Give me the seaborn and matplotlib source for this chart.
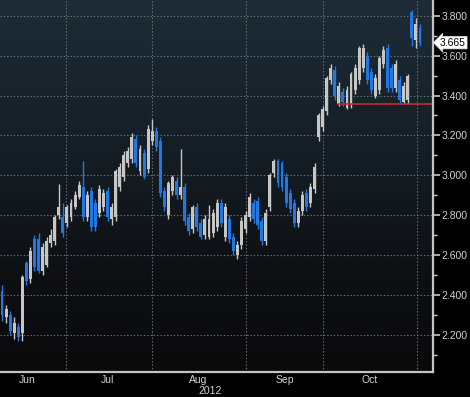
import numpy as np
import pandas as pd
import matplotlib
matplotlib.use("Agg")
import matplotlib.pyplot as plt
import matplotlib.transforms as mtransforms
from matplotlib.colors import LinearSegmentedColormap
from matplotlib.ticker import MultipleLocator
import seaborn as sns

# ---- data ----
opens = [2.42, 2.29, 2.30, 2.21, 2.24, 2.21, 2.56, 2.48, 2.68, 2.68,
         2.52, 2.55, 2.66, 2.67, 2.80, 2.79, 2.76, 2.79, 2.84, 2.89,
         2.94, 2.79, 2.92, 2.86, 2.81, 2.84, 2.92, 2.78, 2.79, 2.94,
         2.99, 3.06, 3.08, 3.18, 3.02, 3.11, 3.03, 3.17, 3.22, 3.17,
         2.92, 2.80, 2.92, 2.97, 2.90, 2.94, 2.79, 2.73, 2.84, 2.76,
         2.70, 2.69, 2.71, 2.74, 2.86, 2.69, 2.78, 2.69, 2.60, 2.65,
         2.73, 2.79, 2.86, 2.87, 2.77, 2.67, 2.84, 3.01, 3.07, 3.06,
         2.99, 2.91, 2.86, 2.76, 2.82, 2.91, 2.86, 2.93, 3.19, 3.24,
         3.32, 3.48, 3.53, 3.36, 3.42, 3.34, 3.36, 3.43, 3.48, 3.54,
         3.60, 3.52, 3.40, 3.43, 3.56, 3.64, 3.54, 3.44, 3.48, 3.37,
         3.38, 3.82, 3.68, 3.74]
closes = [2.30, 2.33, 2.22, 2.26, 2.19, 2.49, 2.47, 2.62, 2.54, 2.52,
          2.64, 2.67, 2.70, 2.79, 2.84, 2.71, 2.84, 2.86, 2.90, 2.95,
          2.79, 2.90, 2.74, 2.74, 2.93, 2.91, 2.79, 2.84, 3.02, 3.04,
          3.10, 3.12, 3.19, 3.06, 3.13, 2.99, 3.23, 3.22, 3.14, 2.91,
          2.84, 2.96, 2.99, 2.90, 2.94, 2.77, 2.72, 2.84, 2.74, 2.69,
          2.78, 2.78, 2.81, 2.86, 2.76, 2.84, 2.68, 2.62, 2.65, 2.77,
          2.80, 2.89, 2.78, 2.75, 2.67, 2.81, 3.00, 3.07, 2.96, 2.94,
          2.86, 2.83, 2.76, 2.82, 2.90, 2.84, 2.94, 3.04, 3.30, 3.33,
          3.49, 3.54, 3.40, 3.45, 3.37, 3.43, 3.51, 3.54, 3.64, 3.64,
          3.48, 3.43, 3.49, 3.59, 3.63, 3.44, 3.44, 3.56, 3.38, 3.45,
          3.50, 3.69, 3.76, 3.665]
highs = [2.45, 2.35, 2.32, 2.29, 2.26, 2.50, 2.57, 2.64, 2.70, 2.71,
         2.66, 2.69, 2.73, 2.80, 2.955, 2.86, 2.85, 2.88, 2.92, 2.97,
         3.07, 2.92, 2.94, 2.88, 2.95, 2.93, 2.94, 2.86, 3.03, 3.06,
         3.12, 3.14, 3.21, 3.20, 3.15, 3.13, 3.25, 3.28, 3.24, 3.19,
         2.94, 2.97, 3.00, 2.99, 3.13, 2.96, 2.81, 2.85, 2.86, 2.78,
         2.80, 2.85, 2.83, 2.88, 2.88, 2.86, 2.80, 2.71, 2.67, 2.79,
         2.82, 2.91, 2.88, 2.89, 2.79, 2.83, 3.01, 3.08, 3.08, 3.07,
         3.01, 2.93, 2.88, 2.84, 2.92, 2.93, 2.96, 3.06, 3.31, 3.35,
         3.50, 3.56, 3.55, 3.47, 3.44, 3.45, 3.52, 3.56, 3.65, 3.66,
         3.62, 3.54, 3.51, 3.60, 3.65, 3.66, 3.56, 3.58, 3.50, 3.47,
         3.51, 3.83, 3.79, 3.76]
lows = [2.27, 2.26, 2.20, 2.18, 2.17, 2.17, 2.45, 2.46, 2.52, 2.51,
        2.50, 2.54, 2.64, 2.65, 2.78, 2.69, 2.74, 2.77, 2.83, 2.88,
        2.77, 2.77, 2.72, 2.72, 2.79, 2.82, 2.77, 2.75, 2.77, 2.92,
        2.97, 3.04, 3.06, 3.04, 3.00, 2.98, 3.01, 3.15, 3.12, 2.89,
        2.82, 2.78, 2.90, 2.88, 2.88, 2.75, 2.70, 2.71, 2.72, 2.68,
        2.68, 2.68, 2.69, 2.72, 2.74, 2.67, 2.66, 2.60, 2.58, 2.63,
        2.71, 2.77, 2.76, 2.73, 2.65, 2.65, 2.82, 2.99, 2.94, 2.92,
        2.84, 2.81, 2.74, 2.74, 2.80, 2.82, 2.84, 2.91, 3.17, 3.22,
        3.30, 3.46, 3.38, 3.35, 3.35, 3.33, 3.34, 3.41, 3.46, 3.52,
        3.46, 3.41, 3.39, 3.41, 3.54, 3.42, 3.42, 3.42, 3.36, 3.36,
        3.36, 3.65, 3.64, 3.65]

month_labels = ["Jun", "Jul", "Aug", "Sep", "Oct"]
month_edges = [15.8, 36.9, 60.1, 79.1, 102.2]
month_label_pos = [6.2, 26.1, 48.3, 69.7, 90.6]
year_label = "2012"
y_ticks = [2.2, 2.4, 2.6, 2.8, 3.0, 3.2, 3.4, 3.6, 3.8]
last_price = 3.665
support_level = 3.36
support_start = 82.8

df = pd.DataFrame({"day": np.arange(len(opens)), "open": opens, "high": highs,
                   "low": lows, "close": closes})
df["up"] = df["close"] >= df["open"]

# ---- style ----
sns.set_theme(style="dark")
plt.rcParams["font.family"] = ["Liberation Sans", "DejaVu Sans"]

UP = "#c6c6c6"
DOWN = "#2079e2"
TXT = "#d2d2d2"
AX = "#c4c4c4"

fig = plt.figure(figsize=(4.70, 3.97), dpi=100, facecolor="black")
ax = fig.add_axes([0, 25 / 397, 433 / 470, 372 / 397])
ax.set_facecolor("black")

cmap = LinearSegmentedColormap.from_list(
    "bg", [(0.0, "#1e2c37"), (0.45, "#141c23"), (0.75, "#0d0f12"), (1.0, "#0a0a0b")])
ax.imshow(np.linspace(0, 1, 256).reshape(-1, 1), cmap=cmap, aspect="auto",
          extent=[0, 1, 0, 1], transform=ax.transAxes, zorder=0)

colors = np.where(df["up"], UP, DOWN)
ax.vlines(df["day"], df["low"], df["high"], colors=colors, linewidth=1.0, zorder=3)
body_bottom = np.minimum(df["open"], df["close"])
body_height = np.abs(df["close"] - df["open"])
ax.bar(df["day"], body_height, bottom=body_bottom, width=0.72, color=colors,
       linewidth=0, zorder=4)

ax.set_xlim(-0.5, 106.2)
ax.set_ylim(2.0146, 3.8787)

# support line
frac = (support_start - ax.get_xlim()[0]) / (ax.get_xlim()[1] - ax.get_xlim()[0])
ax.axhline(support_level, xmin=frac, xmax=1.0, color="#c42a2a", linewidth=1.2, zorder=5)

# grid
grid_kw = dict(color="#6b747c", linestyle=(0, (1.2, 1.8)), linewidth=0.8)
ax.set_xticks(month_edges)
ax.set_xticklabels([])
ax.set_xticks(month_label_pos, minor=True)
ax.set_xticklabels(month_labels, minor=True)
ax.set_yticks(y_ticks)
ax.set_yticklabels([f"{v:.3f}" for v in y_ticks])
ax.yaxis.set_minor_locator(MultipleLocator(0.1))
ax.yaxis.tick_right()
ax.grid(True, which="major", axis="both", **grid_kw)
ax.set_axisbelow(False)
for gl in ax.get_xgridlines() + ax.get_ygridlines():
    gl.set_zorder(1)

ax.tick_params(axis="x", which="major", direction="in", length=3, width=1, color=AX)
ax.tick_params(axis="x", which="minor", length=0, pad=2, labelsize=7.5, labelcolor=TXT)
ax.tick_params(axis="y", which="major", direction="out", length=5, width=1.2,
               color=AX, labelsize=7.5, labelcolor=TXT, pad=1, right=True, left=False)
ax.tick_params(axis="y", which="minor", direction="out", length=3, width=1,
               color=AX, right=True, left=False)

for s in ["top", "left"]:
    ax.spines[s].set_visible(False)
for s in ["right", "bottom"]:
    ax.spines[s].set_visible(True)
    ax.spines[s].set_color(AX)
    ax.spines[s].set_linewidth(1.6)
    ax.spines[s].set_zorder(6)

trans = mtransforms.blended_transform_factory(ax.transData, ax.transAxes)
ax.text(51.2, -0.052, year_label, transform=trans, ha="center", va="center",
        fontsize=7.5, color=TXT)

trans_y = mtransforms.blended_transform_factory(ax.transAxes, ax.transData)
ax.text(1.016, last_price, f"{last_price:.3f}", transform=trans_y, ha="left",
        va="center", fontsize=7.5, color="black", clip_on=False, zorder=7,
        bbox=dict(boxstyle="larrow,pad=0.12", fc="white", ec="#dddddd", lw=0.5))

fig.savefig("out.png", dpi=100, facecolor="black")
